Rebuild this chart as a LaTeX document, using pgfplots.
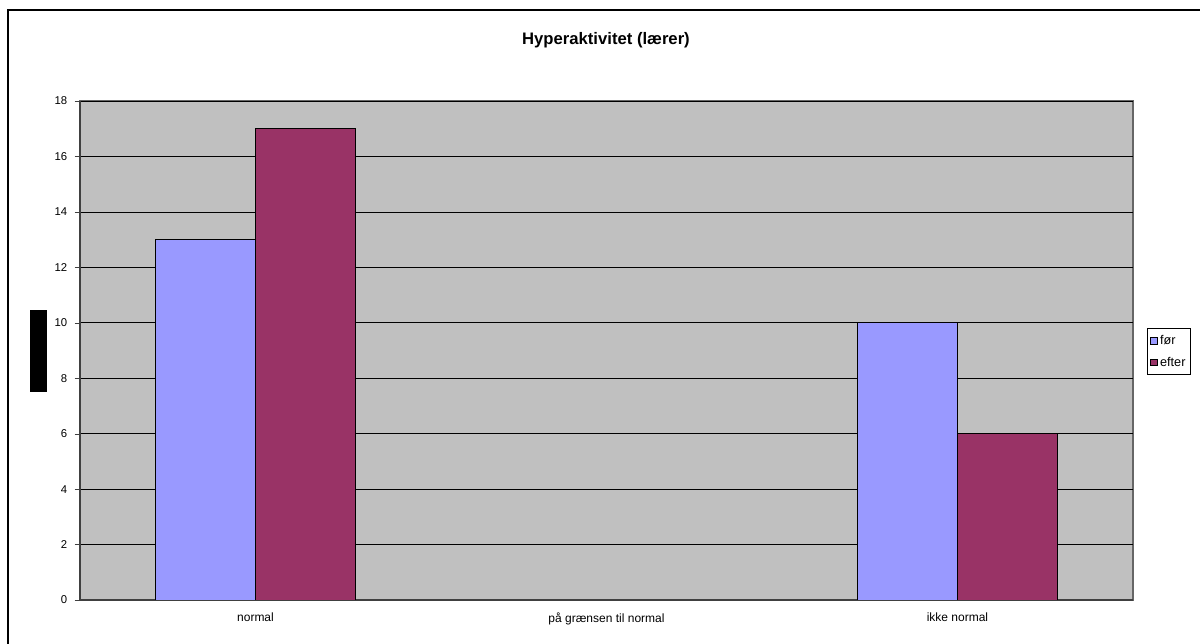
\documentclass[border=0pt]{standalone}
\usepackage{pgfplots}
\pgfplotsset{compat=1.18}
\usepackage{fontspec}
\setmainfont{Liberation Sans}
\definecolor{plotbg}{RGB}{192,192,192}
\definecolor{forc}{RGB}{153,153,255}
\definecolor{efterc}{RGB}{153,51,102}
\begin{document}
\begin{tikzpicture}
\useasboundingbox (0pt,0pt) rectangle (900pt,482.25pt);
% outer frame (only left and top edge inside the picture)
\draw[line width=1.5pt] (6pt,-5pt) -- (6pt,474.75pt) -- (910pt,474.75pt);
% redacted y label
\fill[black] (22.5pt,188.25pt) rectangle (35.25pt,249.75pt);
\begin{axis}[
  at={(60pt,32.25pt)}, anchor=south west,
  scale only axis, width=789.75pt, height=374.25pt,
  ybar=0pt, bar width=75pt,
  xmin=-0.5, xmax=2.5, ymin=0, ymax=18,
  ytick={0,2,...,18},
  xtick={0,1,2}, xticklabels={normal,på grænsen til normal,ikke normal},
  extra x ticks={-0.5,0.5,1.5,2.5}, extra x tick labels={},
  extra x tick style={major tick length=4pt, tick style={black!75}},
  x tick style={draw=none},
  y tick style={black!75},
  major tick length=4pt,
  tick align=outside,
  axis lines*=left,
  axis line style={black!75, line width=0.8pt, -},
  axis background/.style={fill=plotbg, draw=gray!80!black, line width=0.8pt},
  ymajorgrids, major grid style={black, line width=0.5pt},
  yticklabel style={font=\fontsize{8.5}{10}\selectfont, xshift=-2pt},
  xticklabel style={font=\fontsize{9}{11}\selectfont, yshift=-2pt},
  /pgf/number format/assume math mode=true,
  legend style={at={(1.0133,0.545)}, anchor=north west, draw=black, line width=0.5pt,
    font=\fontsize{9.5}{11}\selectfont, inner xsep=2pt, inner ysep=3pt, row sep=4pt,
    /tikz/every even column/.append style={column sep=1pt}},
  legend image code/.code={\draw[#1, draw=black, line width=0.6pt] (0pt,-2.5pt) rectangle (5pt,2.5pt);},
  legend cell align=left,
]
\addplot[fill=forc, draw=black, line width=0.6pt] coordinates {(0,13) (1,0) (2,10)};
\addplot[fill=efterc, draw=black, line width=0.6pt] coordinates {(0,17) (1,0) (2,6)};
\legend{før,efter}
\end{axis}
\node[font=\fontsize{12.5}{15}\selectfont\bfseries] at (454.5pt,452.25pt) {Hyperaktivitet (lærer)};
\end{tikzpicture}
\end{document}
